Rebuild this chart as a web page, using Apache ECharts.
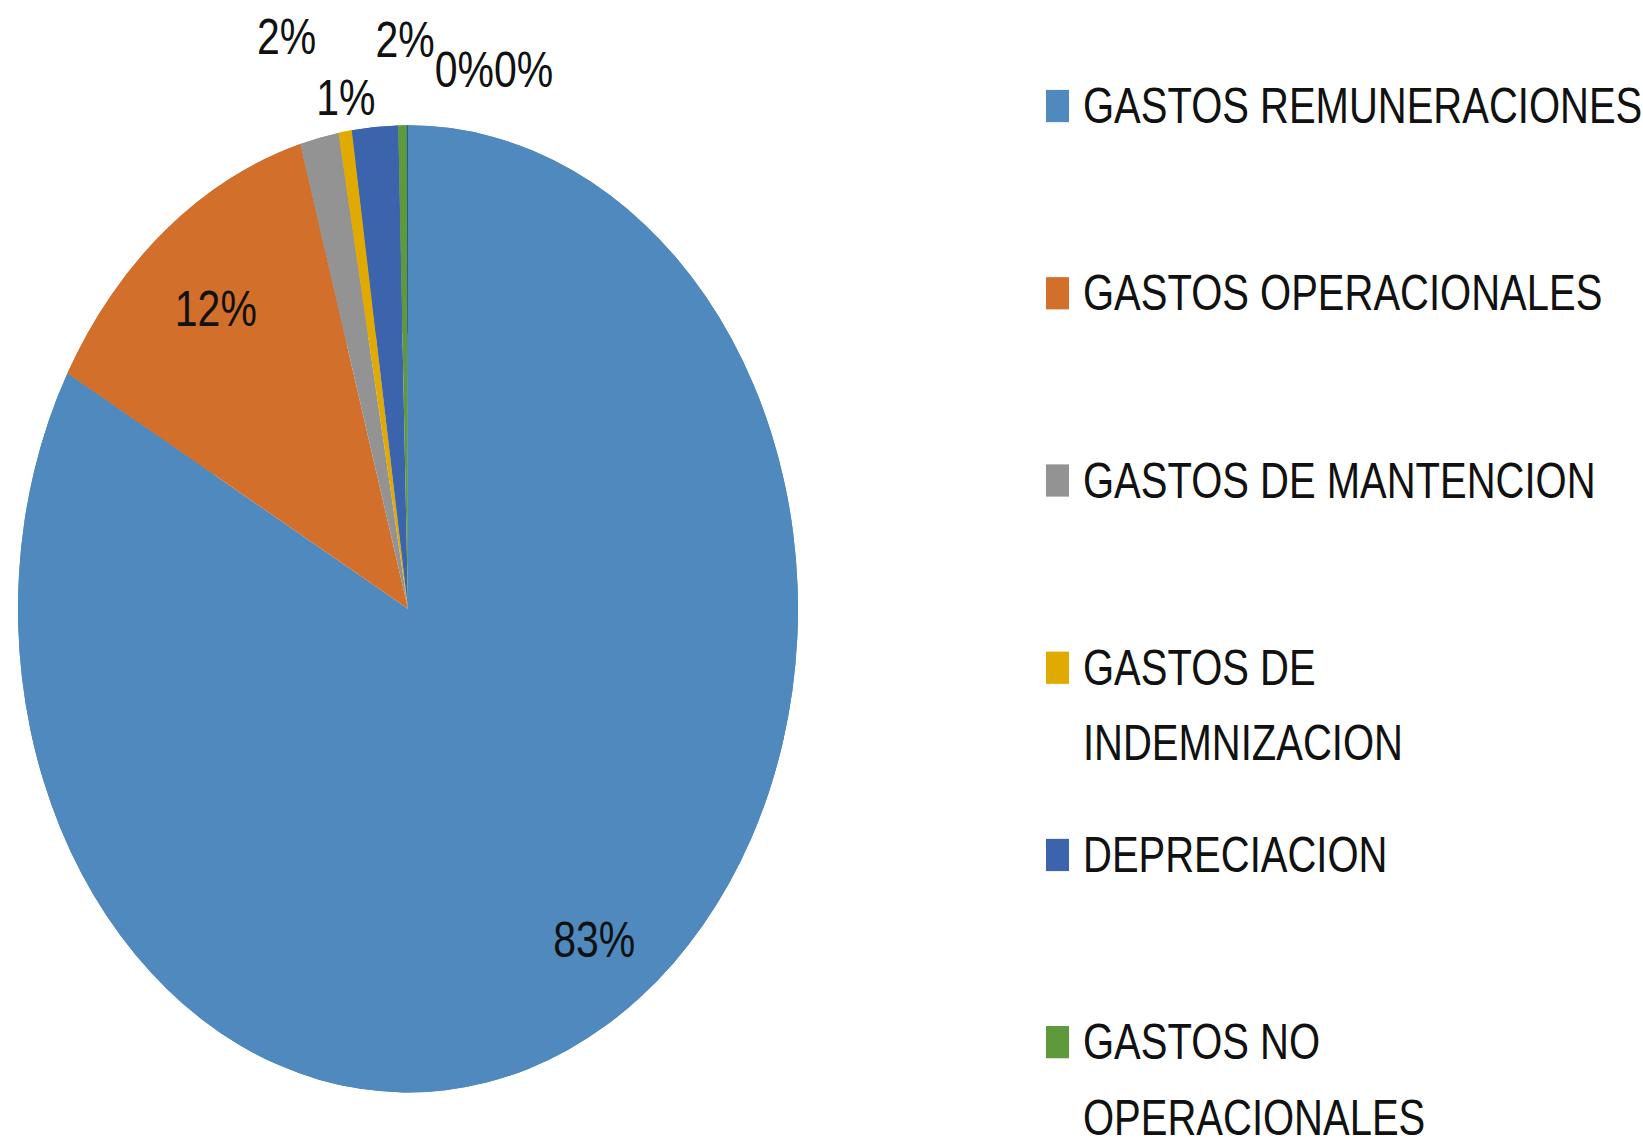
<!DOCTYPE html>
<html>
<head>
<meta charset="utf-8">
<script src="https://cdn.jsdelivr.net/npm/echarts@6/dist/echarts.min.js"></script>
<style>
  html, body { margin: 0; padding: 0; background: #fff; }
  #wrap { width: 1643px; height: 1139px; overflow: hidden; }
  /* the source picture is stretched vertically, so the whole chart is too */
  #main { width: 1643px; height: 918px; transform: scaleY(1.24); transform-origin: 0 0; }
</style>
</head>
<body>
<div id="wrap"><div id="main"></div></div>
<script>
const categories = [
  'GASTOS REMUNERACIONES',
  'GASTOS OPERACIONALES',
  'GASTOS DE MANTENCION',
  'GASTOS DE INDEMNIZACION',
  'DEPRECIACION',
  'GASTOS NO OPERACIONALES',
  'OTROS'
]
// legend text as it wraps in the picture
const legendText = [
  'GASTOS REMUNERACIONES',
  'GASTOS OPERACIONALES',
  'GASTOS DE MANTENCION',
  'GASTOS DE\nINDEMNIZACION',
  'DEPRECIACION',
  'GASTOS NO\nOPERACIONALES'
]
const values = [83.1, 12.45, 1.6, 0.55, 1.9, 0.35, 0.05]
const colors = ['#4f89bd', '#d26f2b', '#939393', '#e0aa00', '#3c64ad', '#5e9a3c', '#255e91']
// how far the outside labels sit off the rim (staggered like the original)
const labelGap = [0, 0, 84, 28, 71, 45, 45]

const R = 390
const center = [408, 491]
const lineH = 61

const chart = echarts.init(document.getElementById('main'), null, { renderer: 'svg' })

const sliceData = (withLabels) => values.map((v, i) => ({
  name: categories[i],
  value: v,
  itemStyle: { color: colors[i] },
  label: withLabels ? { position: v >= 10 ? 'inside' : 'outside' } : { show: false },
  labelLine: { length: labelGap[i] }
}))

// wrapped items: a blank line on top keeps the first line level with the marker
const isWrapped = i => legendText[i].includes('\n')

const option = {
  animation: false,
  color: colors,
  legend: {
    orient: 'vertical',
    left: 1046,
    top: -6,
    height: 2000,
    padding: 0,
    itemGap: -32,
    itemWidth: 23,
    itemHeight: 26,
    icon: 'rect',
    selectedMode: false,
    data: categories.slice(0, 6).map((name, i) => ({
      name,
      textStyle: isWrapped(i) ? { padding: [0, 0, 0, 9] } : {}
    })),
    formatter: name => {
      const i = categories.indexOf(name)
      return isWrapped(i) ? '\n' + legendText[i] : legendText[i]
    },
    textStyle: {
      fontFamily: '"Liberation Sans Narrow", "Liberation Sans", sans-serif',
      fontSize: 40,
      lineHeight: lineH,
      color: '#111',
      padding: [lineH, 0, lineH, 9]
    }
  },
  series: [
    {
      // full disc under the ring, so the slices look solid
      type: 'pie',
      silent: true,
      center,
      radius: [0, R],
      startAngle: 90,
      clockwise: true,
      label: { show: false },
      labelLine: { show: false },
      emphasis: { disabled: true },
      data: sliceData(false)
    },
    {
      type: 'pie',
      center,
      radius: [R * 0.57, R],
      startAngle: 90,
      clockwise: true,
      percentPrecision: 0,
      avoidLabelOverlap: false,
      label: {
        formatter: '{d}%',
        fontFamily: '"Liberation Sans", sans-serif',
        fontSize: 41,
        color: '#111'
      },
      labelLine: { show: false, length2: 0 },
      labelLayout: { moveOverlap: 'shiftX' },
      emphasis: { disabled: true },
      data: sliceData(true)
    }
  ]
}

chart.setOption(option)
</script>
</body>
</html>
